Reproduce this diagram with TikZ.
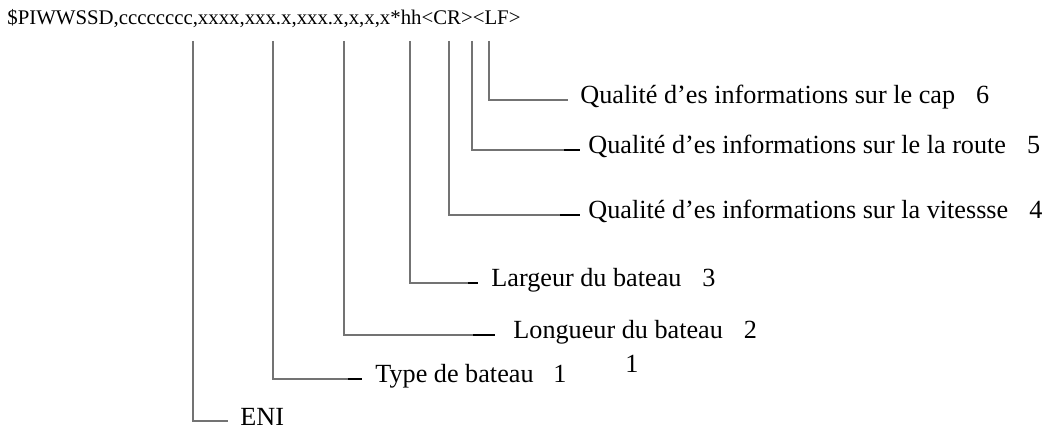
\documentclass[tikz,border=0pt]{standalone}
\usepackage{fontspec}
\setmainfont{Liberation Serif}
\begin{document}
\begin{tikzpicture}[x=0.5pt,y=-0.5pt,
  lead/.style={draw=black!55, line width=0.6pt},
  tail/.style={draw=black, line width=0.6pt},
  lab/.style={anchor=west, inner ysep=0pt, text height=0.7em, text depth=0.3em,
              font=\fontsize{13.1}{15}\selectfont},
  hdrfont/.style={font=\fontsize{10.4}{12}\selectfont},
]
\useasboundingbox (0,0) rectangle (1054,432);
\node[anchor=base west, inner sep=0pt, hdrfont] (hdr) at (7,25)
  {\$PIWWSSD,cccccccc,xxxx,xxx.x,xxx.x,x,x,x*hh<CR><LF>};

% tops of the leader lines
\coordinate (t0) at (193,41);
\coordinate (t1) at (273,41);
\coordinate (t2) at (344,41);
\coordinate (t3) at (410,41);
\coordinate (t4) at (449,41);
\coordinate (t5) at (472,41);
\coordinate (t6) at (489,41);

% labels
\node[lab, inner xsep=6pt] (l6) at (568,100) {Qualité d’es informations sur le cap\hspace{0.8em}6};
\node[lab, inner xsep=4pt] (l5) at (580,150) {Qualité d’es informations sur le la route\hspace{0.8em}5};
\node[lab, inner xsep=4pt] (l4) at (580,215) {Qualité d’es informations sur la vitessse\hspace{0.8em}4};
\node[lab, inner xsep=6.5pt] (l3) at (478,283) {Largeur du bateau\hspace{0.8em}3};
\node[lab, inner xsep=9pt] (l2) at (495,335) {Longueur du bateau\hspace{0.8em}2};
\node[lab, inner xsep=6.5pt] (l1) at (362,379) {Type de bateau\hspace{0.75em}1};
\node[lab, inner xsep=6pt] (l0) at (228,421) {ENI};
\node[anchor=base, inner sep=0pt, font=\fontsize{13.1}{15}\selectfont] (extra) at (632,372) {1};

% leaders
\draw[lead] (t6) |- (l6.west);
\draw[lead] (t5) |- (l5.west);
\draw[lead] (t4) |- (l4.west);
\draw[lead] (t3) |- (l3.west);
\draw[lead] (t2) |- (l2.west);
\draw[lead] (t1) |- (l1.west);
\draw[lead] (t0) |- (l0.west);

% black tails
\draw[tail] ([xshift=-8pt]l5.west) -- (l5.west);
\draw[tail] ([xshift=-10pt]l4.west) -- (l4.west);
\draw[tail] ([xshift=-5pt]l3.west) -- (l3.west);
\draw[tail] ([xshift=-11pt]l2.west) -- (l2.west);
\draw[tail] ([xshift=-7pt]l1.west) -- (l1.west);
\end{tikzpicture}
\end{document}
